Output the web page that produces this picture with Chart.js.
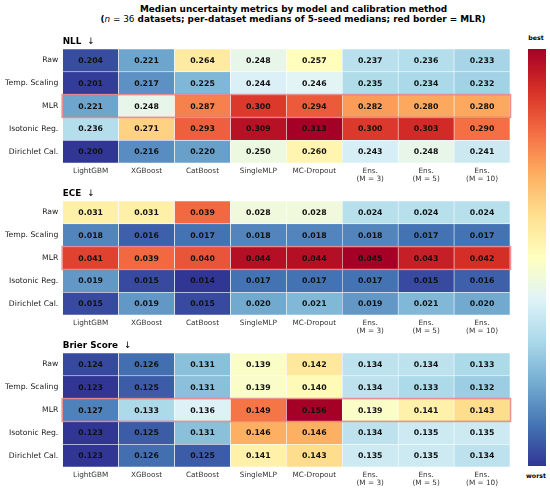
<!DOCTYPE html>
<html>
<head>
<meta charset="utf-8">
<script src="https://cdn.jsdelivr.net/npm/chart.js@4.4.1/dist/chart.umd.min.js"></script>
<style>
  html, body { margin:0; padding:0; background:#fff; }
  body { width:550px; height:489px; position:relative; overflow:hidden; font-family:"DejaVu Sans", sans-serif; }
  .t { position:absolute; white-space:nowrap; color:#000; font-weight:bold; }
  canvas { position:absolute; }
</style>
</head>
<body>
<div class="t" id="t1" style="left:293.5px; top:3.5px; transform:translateX(-50%); font-size:8.9px; line-height:11px;">Median uncertainty metrics by model and calibration method</div>
<div class="t" id="t2" style="left:293px; top:14px; transform:translateX(-50%); font-size:8.9px; line-height:11px;">(<span style="font-style:italic;font-weight:normal">n</span><span style="font-weight:normal"> = 36</span> datasets; per-dataset medians of 5-seed medians; red border = MLR)</div>
<div class="t" style="left:536px; top:34px; transform:translateX(-50%); font-size:6.3px; line-height:8px;">best</div>
<div class="t" style="left:536px; top:471.5px; transform:translateX(-50%); font-size:6.3px; line-height:8px;">worst</div>
<canvas id="c0" width="512" height="152" style="left:0px; top:34.5px;"></canvas>
<canvas id="c1" width="512" height="152" style="left:0px; top:186.5px;"></canvas>
<canvas id="c2" width="512" height="152" style="left:0px; top:338.5px;"></canvas>
<canvas id="cb" width="18" height="417" style="left:528px; top:49px;"></canvas>
<script>
// ---- data ----
const models = ['LightGBM', 'XGBoost', 'CatBoost', 'SingleMLP', 'MC-Dropout', ['Ens.', '(M = 3)'], ['Ens.', '(M = 5)'], ['Ens.', '(M = 10)']];
const methods = ['Raw', 'Temp. Scaling', 'MLR', 'Isotonic Reg.', 'Dirichlet Cal.'];
const highlightRow = 'MLR';

const nllValues = [
  [0.204, 0.221, 0.264, 0.248, 0.257, 0.237, 0.236, 0.233],
  [0.201, 0.217, 0.225, 0.244, 0.246, 0.235, 0.234, 0.232],
  [0.221, 0.248, 0.287, 0.300, 0.294, 0.282, 0.280, 0.280],
  [0.236, 0.271, 0.293, 0.309, 0.313, 0.300, 0.303, 0.290],
  [0.200, 0.216, 0.220, 0.250, 0.260, 0.243, 0.248, 0.241]
];
const eceValues = [
  [0.031, 0.031, 0.039, 0.028, 0.028, 0.024, 0.024, 0.024],
  [0.018, 0.016, 0.017, 0.018, 0.018, 0.018, 0.017, 0.017],
  [0.041, 0.039, 0.040, 0.044, 0.044, 0.045, 0.043, 0.042],
  [0.019, 0.015, 0.014, 0.017, 0.017, 0.017, 0.015, 0.016],
  [0.015, 0.019, 0.015, 0.020, 0.021, 0.019, 0.021, 0.020]
];
const brierValues = [
  [0.124, 0.126, 0.131, 0.139, 0.142, 0.134, 0.134, 0.133],
  [0.123, 0.125, 0.131, 0.139, 0.140, 0.134, 0.133, 0.132],
  [0.127, 0.133, 0.136, 0.149, 0.156, 0.139, 0.141, 0.143],
  [0.123, 0.125, 0.131, 0.146, 0.146, 0.134, 0.135, 0.135],
  [0.123, 0.126, 0.125, 0.141, 0.143, 0.135, 0.135, 0.134]
];
const panelTitles = ['NLL', 'ECE', 'Brier Score'];
const panelArrow = '\u2193';
const panelValues = [nllValues, eceValues, brierValues];

// ---- colormap (RdYlBu_r) ----
const cmapStops = ['#313695','#4575b4','#74add1','#abd9e9','#e0f3f8','#ffffbf','#fee090','#fdae61','#f46d43','#d73027','#a50026'];
function hexToRgb(h){ return [parseInt(h.slice(1,3),16), parseInt(h.slice(3,5),16), parseInt(h.slice(5,7),16)]; }
function cmap(t){
  t = Math.max(0, Math.min(1, t));
  const s = t * (cmapStops.length - 1);
  const i = Math.min(cmapStops.length - 2, Math.floor(s));
  const f = s - i;
  const a = hexToRgb(cmapStops[i]), b = hexToRgb(cmapStops[i+1]);
  const c = a.map((v, k) => Math.round(v + (b[k] - v) * f));
  return 'rgb(' + c.join(',') + ')';
}

const FONT = '"DejaVu Sans", sans-serif';

const cellPlugin = {
  id: 'cells',
  afterDatasetsDraw(chart, args, opts) {
    const ctx = chart.ctx;
    const area = chart.chartArea;
    ctx.save();
    ctx.font = 'bold 7.8px ' + FONT;
    ctx.textAlign = 'center';
    ctx.textBaseline = 'middle';
    ctx.fillStyle = '#111';
    chart.data.datasets.forEach((ds, i) => {
      const meta = chart.getDatasetMeta(i);
      meta.data.forEach((bar, j) => {
        const p = bar.getProps(['x', 'y', 'base'], true);
        ctx.fillText(opts.values[i][j].toFixed(3), p.x, (p.y + p.base) / 2 + 0.5);
      });
    });
    // highlight border
    const ys = chart.scales.y;
    const r = methods.indexOf(highlightRow);
    const top = ys.getPixelForValue(r - 0.5), bot = ys.getPixelForValue(r + 0.5);
    ctx.strokeStyle = 'rgba(232,118,122,0.8)';
    ctx.lineWidth = 1.6;
    ctx.strokeRect(area.left - 0.5, top, area.right - area.left + 1, bot - top);
    // panel title
    ctx.font = 'bold 8.8px ' + FONT;
    ctx.textAlign = 'left';
    ctx.fillStyle = '#000';
    const ty = area.top - 7.5;
    ctx.fillText(opts.title, area.left, ty);
    const w = ctx.measureText(opts.title).width;
    ctx.font = '8.8px ' + FONT;
    ctx.fillText(panelArrow, area.left + w + 6, ty);
    ctx.restore();
  }
};

function makePanel(canvasId, vals, title) {
  const flat = vals.flat();
  const vmin = Math.min(...flat), vmax = Math.max(...flat);
  const datasets = methods.map((m, i) => ({
    label: m,
    data: models.map(() => [i - 0.5, i + 0.5]),
    backgroundColor: vals[i].map(v => cmap((v - vmin) / (vmax - vmin))),
    borderColor: '#ffffff',
    borderWidth: 0.6,
    borderSkipped: false,
    grouped: false,
    barPercentage: 1,
    categoryPercentage: 1
  }));
  new Chart(document.getElementById(canvasId), {
    type: 'bar',
    data: { labels: models, datasets },
    options: {
      responsive: false,
      animation: false,
      devicePixelRatio: 1,
      layout: { padding: { top: 14, right: 2, left: 0, bottom: 0 } },
      plugins: {
        legend: { display: false },
        tooltip: { enabled: false },
        title: { display: false },
        cells: { values: vals, title: title }
      },
      scales: {
        x: {
          type: 'category',
          grid: { display: false, drawTicks: false, tickLength: 0 },
          border: { display: false },
          ticks: { font: { family: FONT, size: 7.3, lineHeight: 1.15 }, color: '#333', maxRotation: 0, minRotation: 0, autoSkip: false, padding: 3.8 },
          afterFit: s => { s.height = 24; }
        },
        y: {
          type: 'linear',
          min: -0.5, max: methods.length - 0.5,
          reverse: true,
          grid: { display: false, drawTicks: false, tickLength: 0 },
          border: { display: false },
          afterBuildTicks: s => { s.ticks = methods.map((m, i) => ({ value: i })); },
          ticks: { font: { family: FONT, size: 7.7 }, color: '#222', padding: 4.4, callback: v => methods[v] },
          afterFit: s => { s.width = 62.7; }
        }
      }
    },
    plugins: [cellPlugin]
  });
}

panelValues.forEach((v, k) => makePanel('c' + k, v, panelTitles[k]));

// ---- colorbar ----
new Chart(document.getElementById('cb'), {
  type: 'bar',
  data: {
    labels: [''],
    datasets: [{
      data: [[0, 1]],
      borderWidth: 0,
      barPercentage: 1,
      categoryPercentage: 1,
      backgroundColor: (c) => {
        const area = c.chart.chartArea;
        if (!area) return '#ccc';
        const g = c.chart.ctx.createLinearGradient(0, area.bottom, 0, area.top);
        cmapStops.forEach((col, i) => g.addColorStop(i / (cmapStops.length - 1), col));
        return g;
      }
    }]
  },
  options: {
    responsive: false,
    animation: false,
    devicePixelRatio: 1,
    layout: { padding: 0 },
    plugins: { legend: { display: false }, tooltip: { enabled: false } },
    scales: {
      x: { display: false },
      y: { display: false, min: 0, max: 1 }
    }
  }
});
</script>
</body>
</html>
